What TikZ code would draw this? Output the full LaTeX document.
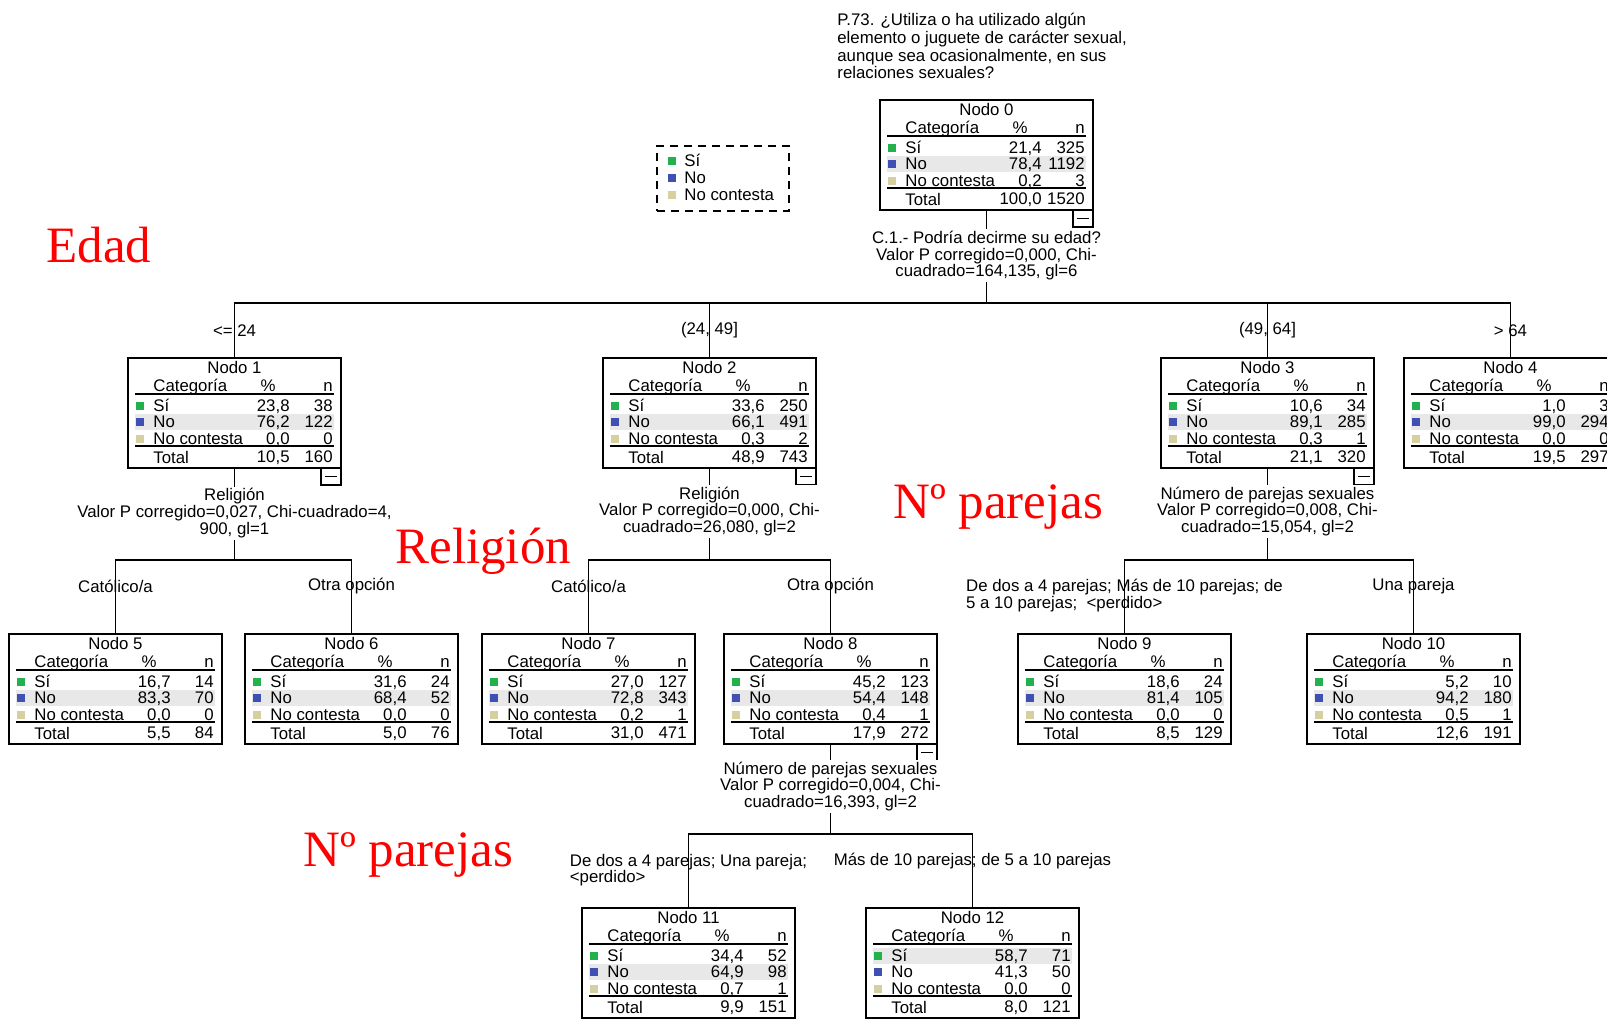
\documentclass[tikz,border=0pt]{standalone}
\usepackage{fontspec}
\setmainfont{Liberation Sans}
\newfontfamily\serifroja{Liberation Serif}
\usepackage{tikz}

\definecolor{verde}{RGB}{34,177,76}
\definecolor{azul}{RGB}{62,80,180}
\definecolor{beige}{RGB}{214,207,160}
\definecolor{gris}{RGB}{232,232,232}

\newcommand{\tabla}[5]{%
    \begin{scope}[shift={(#2,#3)}]
        \fill[gris] (7,{23+16.5*#4}) rectangle (206,{39+16.5*#4});
        \node[caja] (n#1) at (106.5,55) {};
        \node[texto, anchor=base] at (106.5,15) {Nodo #1};
        \node[texto, anchor=base west] at (25,33) {Categoría};
        \node[texto, anchor=base] at (140,33) {\%};
        \node[texto, anchor=base east] at (205,33) {n};
        \draw[regla] (7,36) -- (206,36) (7,88) -- (206,88);
        \foreach \col/\etq [count=\i] in {verde/Sí, azul/No, beige/No contesta} {
            \fill[\col] (8,{27+16.5*\i}) rectangle (16,{35+16.5*\i});
            \node[texto, anchor=base west] at (25,{36.5+16.5*\i}) {\etq};
        }
        \node[texto, anchor=base west] at (25,105) {Total};
        \foreach \pc/\nn [count=\i] in {#5} {
            \node[texto, anchor=base east] at (162,{36.5+16.5*\i+2*(\i>3)}) {\pc};
            \node[texto, anchor=base east] at (205,{36.5+16.5*\i+2*(\i>3)}) {\nn};
        }
    \end{scope}
}

\newcommand{\menos}[1]{%
    \draw[linea] (#1.south east) rectangle ++(-20,17);
    \draw[linea] ([shift={(-16,8.5)}]#1.south east) -- ++(12,0);
}

\begin{document}
\begin{tikzpicture}[x=0.5pt, y=-0.5pt,
        texto/.style={font=\fontsize{8.4}{8.3}\selectfont, inner sep=0pt},
        caja/.style={draw, line width=0.75pt, minimum width=106.5pt, minimum height=55pt, inner sep=0pt, outer sep=0pt},
        regla/.style={line width=0.75pt},
        linea/.style={line width=0.75pt},
        corte/.style={texto, fill=white, align=center, inner ysep=1pt},
        rotulo/.style={font=\serifroja\fontsize{25.5}{30}\selectfont, text=red, inner sep=0pt}]

    \useasboundingbox[fill=white] (0,0) rectangle (1607,1018);

    \node[texto, font=\fontsize{8.4}{8.85}\selectfont, anchor=north west, align=left] (pregunta) at (837,13) {P.73. ¿Utiliza o ha utilizado algún\\elemento o juguete de carácter sexual,\\aunque sea ocasionalmente, en sus\\relaciones sexuales?};

    \node[draw, dash pattern=on 4pt off 3pt, line width=0.75pt, minimum width=66pt, minimum height=32.5pt] (leyenda) at (723,178.5) {};
    \foreach \col/\etq [count=\i] in {verde/Sí, azul/No, beige/No contesta} {
        \fill[\col] (668,{140+17*\i}) rectangle (676,{148+17*\i});
        \node[texto, anchor=base west] at (684,{149.5+17*\i}) {\etq};
    }

    \tabla{0}{880}{100}{2}{{21,4}/325, {78,4}/1192, {0,2}/3, {100,0}/1520}
    \tabla{1}{128}{358}{2}{{23,8}/38, {76,2}/122, {0,0}/0, {10,5}/160}
    \tabla{2}{603}{358}{2}{{33,6}/250, {66,1}/491, {0,3}/2, {48,9}/743}
    \tabla{3}{1161}{358}{2}{{10,6}/34, {89,1}/285, {0,3}/1, {21,1}/320}
    \tabla{4}{1404}{358}{2}{{1,0}/3, {99,0}/294, {0,0}/0, {19,5}/297}
    \tabla{5}{9}{634}{2}{{16,7}/14, {83,3}/70, {0,0}/0, {5,5}/84}
    \tabla{6}{245}{634}{2}{{31,6}/24, {68,4}/52, {0,0}/0, {5,0}/76}
    \tabla{7}{482}{634}{2}{{27,0}/127, {72,8}/343, {0,2}/1, {31,0}/471}
    \tabla{8}{724}{634}{2}{{45,2}/123, {54,4}/148, {0,4}/1, {17,9}/272}
    \tabla{9}{1018}{634}{2}{{18,6}/24, {81,4}/105, {0,0}/0, {8,5}/129}
    \tabla{10}{1307}{634}{2}{{5,2}/10, {94,2}/180, {0,5}/1, {12,6}/191}
    \tabla{11}{582}{908}{2}{{34,4}/52, {64,9}/98, {0,7}/1, {9,9}/151}
    \tabla{12}{866}{908}{1}{{58,7}/71, {41,3}/50, {0,0}/0, {8,0}/121}

    \menos{n0}
    \menos{n1}
    \menos{n2}
    \menos{n3}
    \menos{n8}

    \path (n0.south) ++(0,93) coordinate (b0);
    \path (n1.south) ++(0,92) coordinate (b1);
    \path (n2.south) ++(0,92) coordinate (b2);
    \path (n3.south) ++(0,92) coordinate (b3);
    \path (n8.south) ++(0,90) coordinate (b8);

    \draw[linea] (n0.south) -- node[corte, pos=0.49] (c0) {C.1.- Podría decirme su edad?\\Valor P corregido=0,000, Chi-\\cuadrado=164,135, gl=6} (b0);
    \draw[linea] (n1.south) -- node[corte, pos=0.49] (c1) {Religión\\Valor P corregido=0,027, Chi-cuadrado=4,\\900, gl=1} (b1);
    \draw[linea] (n2.south) -- node[corte, pos=0.47] (c2) {Religión\\Valor P corregido=0,000, Chi-\\cuadrado=26,080, gl=2} (b2);
    \draw[linea] (n3.south) -- node[corte, pos=0.47] (c3) {Número de parejas sexuales\\Valor P corregido=0,008, Chi-\\cuadrado=15,054, gl=2} (b3);
    \draw[linea] (n8.south) -- node[corte, pos=0.47] (c8) {Número de parejas sexuales\\Valor P corregido=0,004, Chi-\\cuadrado=16,393, gl=2} (b8);

    \draw[linea] (n1.north) -- node[texto] (r1) {<= 24} (n1.north |- b0) -- (n4.north |- b0) -- node[texto] (r4) {> 64} (n4.north);
    \draw[linea] (n2.north) -- node[texto] (r2) {(24, 49]} (n2.north |- b0);
    \draw[linea] (n3.north) -- node[texto] (r3) {(49, 64]} (n3.north |- b0);

    \draw[linea] (n5.north) -- node[texto, pos=0.65] (r5) {Católico/a} (n5.north |- b1) -- (n6.north |- b1) -- node[texto, pos=0.35] (r6) {Otra opción} (n6.north);
    \draw[linea] (n7.north) -- node[texto, pos=0.65] (r7) {Católico/a} (n7.north |- b2) -- (n8.north |- b2) -- node[texto, pos=0.35] (r8) {Otra opción} (n8.north);
    \draw[linea] (n9.north) -- node[texto, align=left, pos=0.52] (r9) {De dos a 4 parejas; Más de 10 parejas; de\\5 a 10 parejas;\ \ <perdido>} (n9.north |- b3) -- (n10.north |- b3) -- node[texto, pos=0.35] (r10) {Una pareja} (n10.north);
    \draw[linea] (n11.north) -- node[texto, align=left, pos=0.51] (r11) {De dos a 4 parejas; Una pareja;\\<perdido>} (n11.north |- b8) -- (n12.north |- b8) -- node[texto, pos=0.36] (r12) {Más de 10 parejas; de 5 a 10 parejas} (n12.north);

    \node[rotulo, anchor=base west] (edad) at (46,262) {Edad};
    \node[rotulo, anchor=base west] (religion) at (395,563) {Religión};
    \node[rotulo, anchor=base west] (parejas1) at (893,518) {Nº parejas};
    \node[rotulo, anchor=base west] (parejas2) at (303,866) {Nº parejas};
\end{tikzpicture}
\end{document}
